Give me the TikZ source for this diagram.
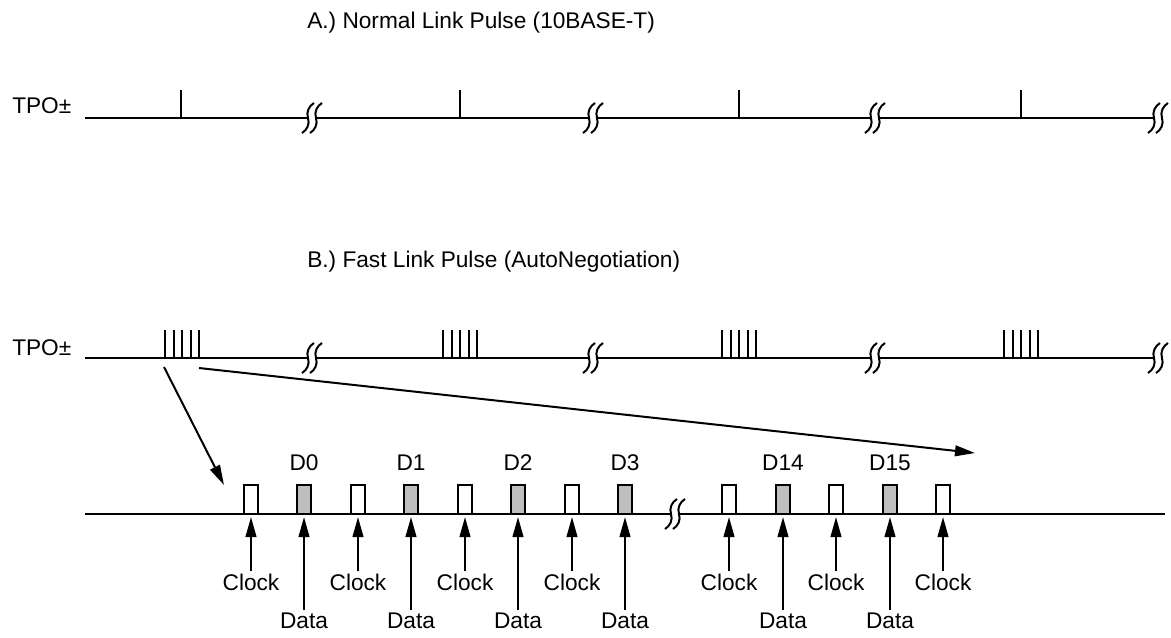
\documentclass[tikz,border=0pt]{standalone}
\usepackage{fontspec}
\setmainfont{Liberation Sans}
\usetikzlibrary{arrows.meta}

% break mark: two wavy strokes across a line
\newcommand{\linkbreak}[2]{%
  \foreach \dx in {-4,4}{%
    \draw[sig] (#1+\dx-6,#2+15) .. controls (#1+\dx-1,#2+12) and (#1+\dx+2,#2+6) .. (#1+\dx,#2)
      .. controls (#1+\dx-2,#2-6) and (#1+\dx+1,#2-12) .. (#1+\dx+6,#2-15);}}

\begin{document}
\begin{tikzpicture}[x=0.75pt,y=-0.75pt,
  font=\fontsize{17}{20}\selectfont,
  sig/.style={line width=1.5pt},
  clockpulse/.style={sig, fill=white},
  datapulse/.style={sig, fill=black!25},
  ptr/.style={line width=1.5pt, -{Triangle[length=15pt,width=8pt]}},
  lbl/.style={inner sep=1.5pt}]
\useasboundingbox (0,0) rectangle (1171,637);

% A.) normal link pulse
\node[anchor=base west, inner sep=0pt] (titleA) at (307,28) {A.) Normal Link Pulse (10BASE-T)};
\node[anchor=base west, inner sep=0pt] (tpoA) at (12,113) {TPO±};
\draw[sig] (85,118) -- (308,118) (316,118) -- (589,118) (597,118) -- (871,118) (879,118) -- (1154,118);
\foreach \bx in {312,593,875,1158} \linkbreak{\bx}{118};
\foreach \px in {181,460,739,1021} \draw[sig] (\px,118) -- (\px,90);

% B.) fast link pulse
\node[anchor=base west, inner sep=0pt] (titleB) at (307,267) {B.) Fast Link Pulse (AutoNegotiation)};
\node[anchor=base west, inner sep=0pt] (tpoB) at (12,355) {TPO±};
\draw[sig] (85,358) -- (308,358) (316,358) -- (589,358) (597,358) -- (871,358) (879,358) -- (1154,358);
\foreach \bx in {312,593,875,1158} \linkbreak{\bx}{358};
\foreach \gx in {165,443,722,1004}
  \foreach \k in {0,...,4} \draw[sig] (\gx+8.5*\k,358) -- ++(0,-28);

\coordinate (burstL) at (164,367);
\coordinate (burstR) at (199,368);
\coordinate (zoomL) at (224,485);
\coordinate (zoomR) at (975,453);
\draw[ptr] (burstL) -- (zoomL);
\draw[ptr] (burstR) -- (zoomR);

% expanded burst: clock and data pulses
\draw[sig] (85,514) -- (671,514) (679,514) -- (1165,514);
\linkbreak{675}{514}
\foreach \cx [count=\i] in {244,351,458,565,722,829,936}{
  \draw[clockpulse] (\cx,514) rectangle ++(14,-29);
  \coordinate (clk\i) at (\cx+7,517);
  \node[lbl, anchor=base] (clock\i) at (\cx+7,590) {Clock};
  \draw[ptr] (clock\i.north) -- (clk\i);
}
\foreach \dx/\dn [count=\i] in {297/0,404/1,511/2,618/3,776/14,883/15}{
  \draw[datapulse] (\dx,514) rectangle ++(14,-29);
  \node[anchor=base] (bit\i) at (\dx+7,470) {D\dn};
  \coordinate (dat\i) at (\dx+7,517);
  \node[lbl, anchor=base] (data\i) at (\dx+7,628) {Data};
  \draw[ptr] (data\i.north) -- (dat\i);
}
\end{tikzpicture}
\end{document}
